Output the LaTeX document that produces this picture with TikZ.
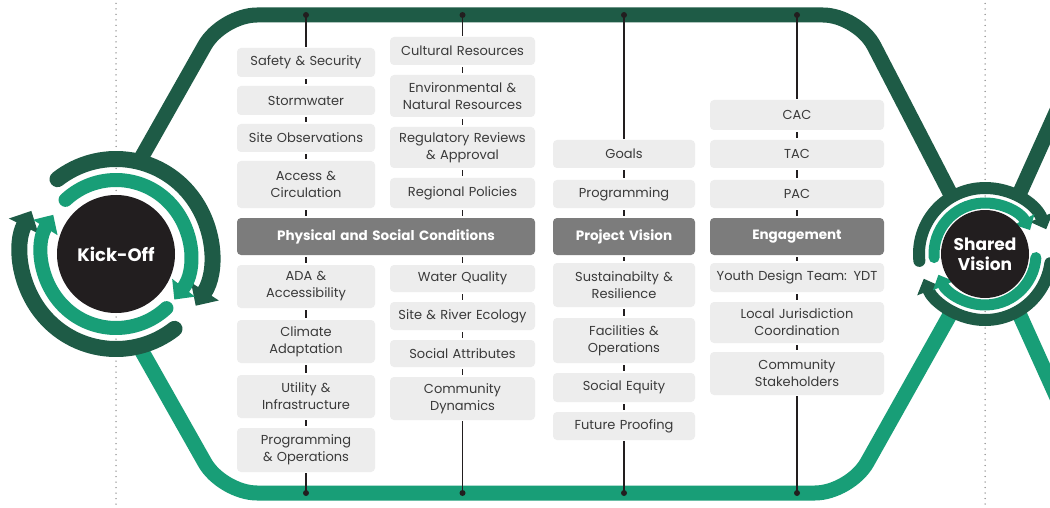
\documentclass[tikz,border=0pt]{standalone}
\usepackage{fontspec}
\setmainfont{Poppins}
\usetikzlibrary{arrows.meta,calc}
\definecolor{darkg}{HTML}{1E5B46}
\definecolor{lightg}{HTML}{189E77}
\definecolor{boxgray}{HTML}{EDEDED}
\definecolor{headgray}{HTML}{7C7C7C}
\definecolor{txt}{HTML}{3A3A3A}
\definecolor{blk}{HTML}{221E1F}
\definecolor{dotgray}{HTML}{8A8A8A}
\begin{document}
\begin{tikzpicture}[x=1pt,y=1pt,
  box/.style={fill=boxgray, rounded corners=4pt, inner sep=0pt, align=center, text=txt, font=\fontsize{13}{17}\selectfont},
  head/.style={fill=headgray, rounded corners=4pt, inner sep=0pt, align=center, text=white, font=\fontsize{13.5}{17}\selectfont\bfseries, minimum height=37pt},
  colA/.style={text width=138pt},
  colB/.style={text width=145pt},
  colC/.style={text width=142pt},
  colD/.style={text width=174pt},
  link/.style={draw=blk, line width=1.8pt, shorten <=2pt, shorten >=2pt},
  stem/.style={draw=blk, line width=1.8pt, shorten >=1pt},
  tdot/.style={circle, fill=blk, inner sep=0pt, minimum size=6pt},
  dotline/.style={draw=dotgray, line width=1.5pt, line cap=round, dash pattern=on 0pt off 5.5pt},
  framedark/.style={draw=darkg, line width=15pt, rounded corners=35pt},
  framelight/.style={draw=lightg, line width=15pt, rounded corners=35pt},
  kdark/.style={draw=darkg, line width=16pt, line cap=round, -{Triangle[width=32pt,length=17pt]}},
  klight/.style={draw=lightg, line width=14pt, line cap=round, -{Triangle[width=28pt,length=15pt]}},
  sdark/.style={draw=darkg, line width=12pt, line cap=round, -{Triangle[width=24pt,length=13pt]}},
  slight/.style={draw=lightg, line width=11pt, line cap=round, -{Triangle[width=22pt,length=12pt]}},
  hub/.style={circle, fill=blk, inner sep=0pt, text=white, align=center}
]
\useasboundingbox (0,0) rectangle (1050,-508);
\fill[white] (0,0) rectangle (1050,-508);
\clip (0,0) rectangle (1050,-508);

\coordinate (K) at (116,-254);
\coordinate (S) at (985,-254);

% dotted guides
\coordinate (d1t) at (116,2);
\coordinate (d1b) at (116,-510);
\coordinate (d2t) at (985,2);
\coordinate (d2b) at (985,-510);
\draw[dotline] (d1t) -- (d1b);
\draw[dotline] (d2t) -- (d2b);

% frame
\draw[framedark] ($(K)+(76:95pt)$) -- (222,-15) -- (858,-15) -- ($(S)+(120:66pt)$);
\draw[framedark] ($(S)+(60:66pt)$) -- (1100,-15);
\draw[framelight] ($(K)+(-76:95pt)$) -- (222,-493) -- (850,-493) -- ($(S)+(-120:66pt)$);
\draw[framelight] ($(S)+(-60:66pt)$) -- (1100,-493);

% Kick-Off rings
\draw[kdark] ($(K)+(128:95pt)$) arc[start angle=128, end angle=-33, radius=95pt];
\draw[kdark] ($(K)+(-52:95pt)$) arc[start angle=-52, end angle=-207, radius=95pt];
\draw[klight] ($(K)+(133:74pt)$) arc[start angle=133, end angle=-38, radius=74pt];
\draw[klight] ($(K)+(-47:74pt)$) arc[start angle=-47, end angle=-212, radius=74pt];
\node[hub, minimum size=118pt, font=\fontsize{18}{20}\selectfont\bfseries] (ko) at (K) {Kick-Off};

% Shared Vision rings
\draw[sdark] ($(S)+(186:66pt)$) arc[start angle=186, end angle=22, radius=66pt];
\draw[sdark] ($(S)+(-8:66pt)$) arc[start angle=-8, end angle=-158, radius=66pt];
\draw[slight] ($(S)+(184:51pt)$) arc[start angle=184, end angle=28, radius=51pt];
\draw[slight] ($(S)+(-4:51pt)$) arc[start angle=-4, end angle=-156, radius=51pt];
\node[hub, minimum size=88pt, font=\fontsize{17}{20}\selectfont\bfseries] (sv) at (S) {Shared\\Vision};

% column A
\node[box,colA,minimum height=29pt] (ss) at (306,-62.5) {Safety \& Security};
\node[box,colA,minimum height=29pt] (sw) at (306,-100.5) {Stormwater};
\node[box,colA,minimum height=28pt] (so) at (306,-138) {Site Observations};
\node[box,colA,minimum height=47pt] (ac) at (306,-184.5) {Access \&\\Circulation};
\node[head,text width=298pt] (psc) at (386,-236.5) {Physical and Social Conditions};
\node[box,colA,minimum height=43pt] (ada) at (306,-286.5) {ADA \&\\Accessibility};
\node[box,colA,minimum height=43pt] (cad) at (306,-341.5) {Climate\\Adaptation};
\node[box,colA,minimum height=43pt] (ui) at (306,-396.5) {Utility \&\\Infrastructure};
\node[box,colA,minimum height=44pt] (po) at (306,-450) {Programming\\\& Operations};

% column B
\node[box,colB,minimum height=28pt] (cr) at (462.5,-51) {Cultural Resources};
\node[box,colB,minimum height=42pt] (en) at (462.5,-96) {Environmental \&\\Natural Resources};
\node[box,colB,minimum height=41pt] (rr) at (462.5,-147.5) {Regulatory Reviews\\\& Approval};
\node[box,colB,minimum height=30pt] (rp) at (462.5,-193) {Regional Policies};
\node[box,colB,minimum height=27pt] (wq) at (462.5,-278.5) {Water Quality};
\node[box,colB,minimum height=28pt] (sr) at (462.5,-316) {Site \& River Ecology};
\node[box,colB,minimum height=27pt] (sa) at (462.5,-353.5) {Social Attributes};
\node[box,colB,minimum height=43pt] (cd) at (462.5,-398.5) {Community\\Dynamics};

% column C
\node[box,colC,minimum height=28pt] (goals) at (624,-154) {Goals};
\node[box,colC,minimum height=28pt] (prog) at (624,-194) {Programming};
\node[head,colC] (pv) at (624,-236.5) {Project Vision};
\node[box,colC,minimum height=44pt] (sus) at (624,-285) {Sustainabilty \&\\Resilience};
\node[box,colC,minimum height=45pt] (fac) at (624,-340.5) {Facilities \&\\Operations};
\node[box,colC,minimum height=29pt] (se) at (624,-387.5) {Social Equity};
\node[box,colC,minimum height=28pt] (fp) at (624,-426) {Future Proofing};

% column D
\node[box,colD,minimum height=30pt] (cac) at (797,-115) {CAC};
\node[box,colD,minimum height=28pt] (tac) at (797,-154) {TAC};
\node[box,colD,minimum height=28pt] (pac) at (797,-194) {PAC};
\node[head,colD] (eng) at (797,-236.5) {Engagement};
\node[box,colD,minimum height=29pt] (ydt) at (797,-277.5) {Youth Design Team: YDT};
\node[box,colD,minimum height=41pt] (lj) at (797,-322.5) {Local Jurisdiction\\Coordination};
\node[box,colD,minimum height=43pt] (cs) at (797,-373.5) {Community\\Stakeholders};

% dots on frame
\node[tdot] (t1) at (306,-15) {};
\node[tdot] (t2) at (462.5,-15) {};
\node[tdot] (t3) at (624,-15) {};
\node[tdot] (t4) at (797,-15) {};
\node[tdot] (b1) at (306,-493) {};
\node[tdot] (b2) at (462.5,-493) {};
\node[tdot] (b3) at (624,-493) {};
\node[tdot] (b4) at (797,-493) {};

% connectors column A
\draw[stem] (t1.center) -- (ss);
\draw[link] (ss) -- (sw);
\draw[link] (sw) -- (so);
\draw[link] (so) -- (ac);
\draw[link] (ac) -- (ac.south |- psc.north);
\draw[link] (ada.north |- psc.south) -- (ada);
\draw[link] (ada) -- (cad);
\draw[link] (cad) -- (ui);
\draw[link] (ui) -- (po);
\draw[stem] (b1.center) -- (po);

% connectors column B
\draw[stem] (t2.center) -- (cr);
\draw[link] (cr) -- (en);
\draw[link] (en) -- (rr);
\draw[link] (rr) -- (rp);
\draw[link] (rp) -- (rp.south |- psc.north);
\draw[link] (wq.north |- psc.south) -- (wq);
\draw[link] (wq) -- (sr);
\draw[link] (sr) -- (sa);
\draw[link] (sa) -- (cd);
\draw[stem] (b2.center) -- (cd);

% connectors column C
\draw[stem] (t3.center) -- (goals);
\draw[link] (goals) -- (prog);
\draw[link] (prog) -- (pv);
\draw[link] (pv) -- (sus);
\draw[link] (sus) -- (fac);
\draw[link] (fac) -- (se);
\draw[link] (se) -- (fp);
\draw[stem] (b3.center) -- (fp);

% connectors column D
\draw[stem] (t4.center) -- (cac);
\draw[link] (cac) -- (tac);
\draw[link] (tac) -- (pac);
\draw[link] (pac) -- (eng);
\draw[link] (eng) -- (ydt);
\draw[link] (ydt) -- (lj);
\draw[link] (lj) -- (cs);
\draw[stem] (b4.center) -- (cs);
\end{tikzpicture}
\end{document}
